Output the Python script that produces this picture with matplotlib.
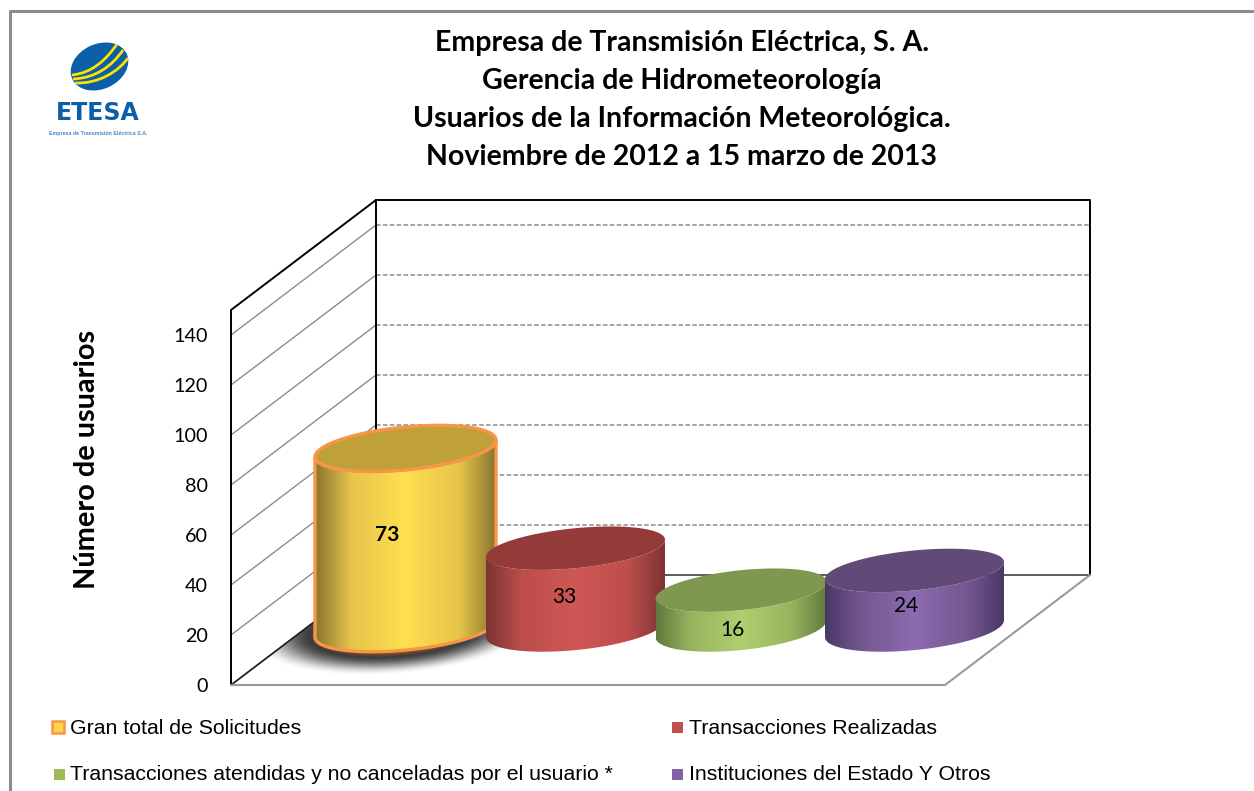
import numpy as np
import matplotlib
matplotlib.use("Agg")
import matplotlib.pyplot as plt
from matplotlib.patches import Polygon, Ellipse, Rectangle, PathPatch
from matplotlib.path import Path
from matplotlib.colors import LinearSegmentedColormap

title_lines = ["Empresa de Transmisión Eléctrica, S. A.",
               "Gerencia de Hidrometeorología",
               "Usuarios de la Información Meteorológica.",
               "Noviembre de 2012 a 15 marzo de 2013"]
y_label = "Número de usuarios"
y_ticks = [0, 20, 40, 60, 80, 100, 120, 140]
y_top = 150
categories = ["Gran total de Solicitudes", "Transacciones Realizadas",
              "Transacciones atendidas y no canceladas por el usuario *",
              "Instituciones del Estado Y Otros"]
values = [73, 33, 16, 24]
bold_label = [True, False, False, False]

# colours: dark edge, mid, centre of the side, top face
side_colors = [["#8a7430", "#e6c44a", "#ffe050"],
               ["#7c3433", "#bc4e4c", "#d05755"],
               ["#5f7a3c", "#96b45e", "#b0cf70"],
               ["#4a3866", "#74578f", "#8c6bb0"]]
top_colors = ["#c0a038", "#943a39", "#7f9850", "#614a78"]
legend_colors = ["#ffd54f", "#c0504d", "#9bbb59", "#8064a2"]

# layout in pixels
px_per_unit = 2.5
cyl_px_per_unit = 2.47
front_x, front_y = 231, 685
back_x, back_y = 376, 575
floor_w = 714
cyl_x = [405.5, 575.5, 741, 914.5]
cyl_rx = [90.5, 89.5, 85.5, 89.5]
cyl_base = 628.7
cyl_top_dy = [0, 1, 1, 1]
top_b = [21.4, 20, 20, 20]
ell_b = 21.4
ell_s = 8.5
label_dx = [-18.5, -11.5, -9, -8.5]
label_dy = [-3.5, 8.5, 21, 6.5]


def vy(base, v):
    return base - v * px_per_unit


def ellipse_pts(cx, cy, rx, start=0, stop=2 * np.pi, b=ell_b, n=120):
    t = np.linspace(start, stop, n)
    return np.column_stack([cx + rx * np.cos(t),
                            cy + b * np.sin(t) - ell_s * np.cos(t)])


def draw_cylinder(ax, i):
    cx, rx = cyl_x[i], cyl_rx[i]
    top = cyl_base - values[i] * cyl_px_per_unit + cyl_top_dy[i]
    lower = ellipse_pts(cx, cyl_base, rx, 0, np.pi)
    upper = ellipse_pts(cx, top, rx, np.pi, 0, b=top_b[i])
    outline = np.vstack([lower, upper])
    dark, mid, light = side_colors[i]
    cmap = LinearSegmentedColormap.from_list(
        "side", [(0, dark), (0.2, mid), (0.5, light), (0.8, mid), (1, dark)])
    grad = np.linspace(0, 1, 256).reshape(1, -1)
    im = ax.imshow(grad, cmap=cmap, aspect="auto", zorder=3 + i,
                   extent=[cx - rx, cx + rx, outline[:, 1].max(), outline[:, 1].min()])
    clip = Polygon(outline, closed=True, transform=ax.transData, fc="none", ec="none")
    ax.add_patch(clip)
    im.set_clip_path(clip)
    edge = "#f79646" if i == 0 else "none"
    lw = 2.4 if i == 0 else 0
    ax.add_patch(Polygon(outline, closed=True, fc="none", ec=edge, lw=lw, zorder=3 + i))
    ax.add_patch(Polygon(ellipse_pts(cx, top, rx, b=top_b[i]), closed=True, fc=top_colors[i],
                         ec=edge, lw=lw, zorder=3 + i))
    ax.text(cx + label_dx[i], (cyl_base + top) / 2 + label_dy[i],
            str(values[i]), ha="center", va="center", fontsize=15,
            fontfamily="Lato", fontweight="bold" if bold_label[i] else "normal",
            zorder=10)


def draw_shadow(ax, floor):
    xs = np.arange(235, 620)
    ys = np.arange(600, 690)
    X, Y = np.meshgrid(xs, ys)
    d = np.sqrt(((X - 395) / 115.0) ** 2 + ((Y + 0.07 * (X - 395) - 630) / 36.0) ** 2)
    u = np.clip((1.25 - d) / 0.55, 0, 1)
    rgba = np.zeros(X.shape + (4,))
    glow = np.clip((0.75 - d) / 0.1, 0, 1)
    rgba[..., 0] = 0.15 + 0.30 * glow
    rgba[..., 1] = 0.15 + 0.10 * glow
    rgba[..., 2] = 0.15 - 0.08 * glow
    rgba[..., 3] = 0.92 * u * u * (3 - 2 * u)
    im = ax.imshow(rgba, extent=[xs[0], xs[-1], ys[-1], ys[0]], aspect="auto", zorder=2)
    im.set_clip_path(floor)


def draw_logo(ax):
    disc = Ellipse((99.5, 66.5), 60, 45, angle=-25, fc="#0b5ea8", ec="none", zorder=3)
    ax.add_patch(disc)
    arcs = [[(72, 75), (92, 73), (106, 60), (117, 44)],
            [(73, 79), (96, 78), (112, 66), (123, 50)],
            [(75, 83), (98, 84), (118, 72), (128, 58)]]
    for pts in arcs:
        p = Path(pts, [Path.MOVETO, Path.CURVE4, Path.CURVE4, Path.CURVE4])
        patch = PathPatch(p, fc="none", ec="#ffe100", lw=2.0, zorder=4)
        ax.add_patch(patch)
        patch.set_clip_path(disc)
    ax.text(98, 113.5, "ETESA", color="#0b5ea8", fontsize=17, fontweight="bold",
            fontfamily="DejaVu Sans", ha="center", va="center", zorder=4)
    ax.text(98, 133, "Empresa de Transmisión Eléctrica S.A.", color="#4a86c0", fontsize=3.75,
            fontweight="bold", fontfamily="Liberation Sans", ha="center", va="center", zorder=4)


def main():
    fig = plt.figure(figsize=(12.54, 7.91), dpi=100)
    ax = fig.add_axes([0, 0, 1, 1])
    ax.set_xlim(0, 1254)
    ax.set_ylim(791, 0)
    ax.axis("off")

    # outer frame, only top and left are inside the picture
    ax.plot([9.5, 9.5, 1254], [791, 11, 11], color="#8c8c8c", lw=2.2, zorder=0)

    top_back = vy(back_y, y_top)
    top_front = vy(front_y, y_top)
    right_x = back_x + floor_w

    # floor, grid
    floor = Polygon([(front_x, front_y), (front_x + floor_w, front_y),
                     (right_x, back_y), (back_x, back_y)], closed=True,
                    fc="white", ec="none", zorder=1)
    ax.add_patch(floor)
    for v in y_ticks:
        ax.plot([front_x, back_x], [vy(front_y, v), vy(back_y, v)], color="#8c8c8c", lw=1, zorder=1)
        if v > 0:
            ax.plot([back_x, right_x], [vy(back_y, v)] * 2, color="#8c8c8c", lw=1.1,
                    ls=(0, (3, 1.5)), zorder=1)

    # walls
    ax.plot([front_x, front_x, back_x, right_x, right_x],
            [front_y, top_front, top_back, top_back, back_y], color="black", lw=1.4, zorder=2)
    ax.plot([back_x, back_x], [top_back, back_y], color="black", lw=1.4, zorder=2)
    ax.plot([back_x, right_x], [back_y, back_y], color="#303030", lw=1.1, zorder=2)
    ax.plot([front_x, back_x], [front_y, back_y], color="#202020", lw=1.2, zorder=2)
    ax.plot([front_x, front_x + floor_w, right_x], [front_y, front_y, back_y],
            color="#9a9a9a", lw=1.5, zorder=2)

    draw_shadow(ax, floor)
    for i in range(len(values)):
        draw_cylinder(ax, i)

    for v in y_ticks:
        ax.text(208, vy(front_y, v) + 1.5, str(v), ha="right", va="center", fontsize=14.2,
                fontfamily="Lato")
    ax.text(87, 459, y_label, rotation=90, ha="center", va="center", fontsize=20.8,
            fontfamily="Lato", fontweight="bold")

    for line, y in zip(title_lines, [43, 81, 119, 157]):
        ax.text(682, y, line, ha="center", va="center", fontsize=20.5,
                fontfamily="Lato", fontweight="bold")

    # legend
    leg_x = [52, 672, 53.5, 672]
    leg_y = [727, 727, 774, 774]
    text_x = [70, 689, 70, 689]
    for i, name in enumerate(categories):
        ec = "#f79646" if i == 0 else "none"
        size = 12 if i == 0 else 11
        ax.add_patch(Rectangle((leg_x[i], leg_y[i] - size / 2), size, size,
                               fc=legend_colors[i], ec=ec, lw=1.8))
        ax.text(text_x[i], leg_y[i] + 1, name, ha="left", va="center", fontsize=15.35,
                fontfamily="Liberation Sans")

    draw_logo(ax)
    fig.savefig("out.png", dpi=100)


if __name__ == "__main__":
    main()
